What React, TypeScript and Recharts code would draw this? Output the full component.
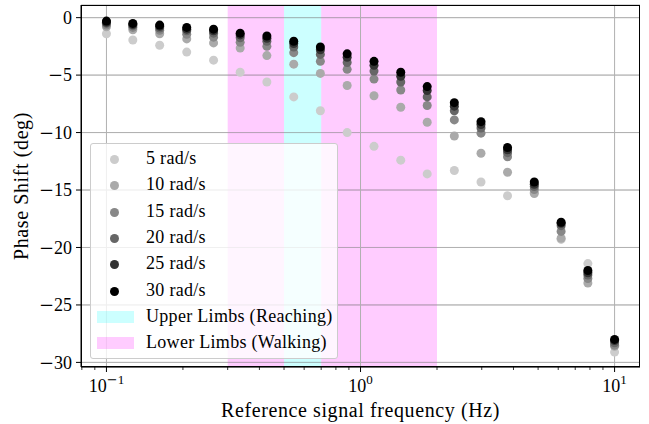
import {
  ScatterChart,
  Scatter,
  XAxis,
  YAxis,
  CartesianGrid,
  ReferenceArea,
  ReferenceLine,
  Label,
} from "recharts";

// reference frequencies (Hz), log spaced
const FREQS = [
  0.1, 0.127, 0.162, 0.207, 0.264, 0.336, 0.428, 0.546, 0.695, 0.886, 1.13,
  1.44, 1.83, 2.34, 2.98, 3.79, 4.83, 6.16, 7.85, 10,
];

const SPEEDS = ["5 rad/s", "10 rad/s", "15 rad/s", "20 rad/s", "25 rad/s", "30 rad/s"];

const PHASE_5 = [
  -1.4, -1.95, -2.4, -3.0, -3.7, -4.75, -5.6, -6.9, -8.1, -10.0, -11.2, -12.4,
  -13.6, -13.3, -14.3, -15.5, -15.2, -19.3, -21.4, -29.1,
];
const PHASE_10 = [
  -0.8, -1.05, -1.4, -1.85, -2.2, -2.65, -3.3, -4.05, -4.85, -5.9, -6.8, -7.8,
  -9.1, -10.3, -11.8, -13.45, -15.3, -19.2, -23.1, -28.6,
];
const PHASE_15 = [
  -0.65, -0.85, -1.1, -1.45, -1.7, -2.15, -2.5, -3.05, -3.8, -4.5, -5.35, -6.3,
  -7.65, -8.9, -10.05, -12.1, -14.95, -18.6, -22.7, -28.5,
];
const PHASE_20 = [
  -0.5, -0.7, -0.9, -1.15, -1.35, -1.75, -2.05, -2.55, -3.2, -3.9, -4.65, -5.6,
  -6.9, -8.1, -9.6, -11.75, -14.7, -18.1, -22.4, -28.3,
];
const PHASE_25 = [
  -0.4, -0.6, -0.75, -1.0, -1.15, -1.5, -1.8, -2.25, -2.8, -3.45, -4.15, -5.1,
  -6.35, -7.7, -9.3, -11.5, -14.5, -17.9, -22.2, -28.1,
];
const PHASE_30 = [
  -0.3, -0.5, -0.65, -0.85, -1.0, -1.35, -1.6, -2.05, -2.55, -3.15, -3.8, -4.75,
  -6.0, -7.4, -9.05, -11.3, -14.3, -17.8, -22.0, -28.0,
];

const SERIES_VALUES = [PHASE_5, PHASE_10, PHASE_15, PHASE_20, PHASE_25, PHASE_30];
const SERIES_COLORS = ["#cccccc", "#aaaaaa", "#888888", "#666666", "#333333", "#000000"];

const X_MAJOR = [0.1, 1, 10];
const X_MINOR = [
  0.08, 0.09, 0.2, 0.3, 0.4, 0.5, 0.6, 0.7, 0.8, 0.9, 2, 3, 4, 5, 6, 7, 8, 9,
];
const Y_TICKS = [0, -5, -10, -15, -20, -25, -30];

const UPPER_BAND = [0.5, 0.7];
const LOWER_BANDS = [
  [0.3, 0.5],
  [0.7, 2],
];

const W = 649;
const H = 424;
const MARGIN = { top: 5, right: 9, bottom: 0, left: 0 };
const Y_AXIS_W = 81;
const X_AXIS_H = 57;
const FONT = "'Liberation Serif', 'Times New Roman', serif";
const MINUS_FONT = "'DejaVu Serif', serif";
const PINK = "#ff00ff";
const CYAN = "#00ffff";

// number label with a wide minus sign, closer to the TeX one
function Signed({ value }: { value: number }) {
  if (value < 0) {
    return (
      <>
        <tspan fontFamily={MINUS_FONT}>{"\u2212"}</tspan>
        <tspan>{String(-value)}</tspan>
      </>
    );
  }
  return <tspan>{String(value)}</tspan>;
}

function XTick(props: any) {
  const { x, y, payload } = props;
  const v = payload.value;
  const major = X_MAJOR.includes(v);
  if (!major) {
    return <line x1={x} x2={x} y1={y} y2={y + 3} stroke="#000" strokeWidth={0.8} />;
  }
  const exp = Math.round(Math.log10(v));
  return (
    <g>
      <line x1={x} x2={x} y1={y} y2={y + 5} stroke="#000" strokeWidth={1} />
      <text x={x} y={y + 25} textAnchor="middle" fontFamily={FONT} fontSize={18} fill="#000">
        10
        <tspan dy={-8} fontSize={13}>
          <Signed value={exp} />
        </tspan>
      </text>
    </g>
  );
}

function YTick(props: any) {
  const { x, y, payload } = props;
  return (
    <text x={x} y={y} dy="0.34em" textAnchor="end" fontFamily={FONT} fontSize={18} fill="#000">
      <Signed value={payload.value} />
    </text>
  );
}

function LegendBox() {
  const rowH = 26.3;
  return (
    <div
      style={{
        position: "absolute",
        left: 90,
        top: 143,
        width: 248,
        height: 216,
        background: "rgba(255,255,255,0.8)",
        border: "1px solid #cccccc",
        borderRadius: 3,
        boxSizing: "border-box",
        fontFamily: FONT,
        fontSize: 18,
        letterSpacing: 0.3,
        color: "#000",
      }}
    >
      {SPEEDS.map((name, i) => (
        <div key={name} style={{ position: "absolute", left: 0, top: 3 + i * rowH, height: rowH, width: "100%" }}>
          <span
            style={{
              position: "absolute",
              left: 19,
              top: 8,
              width: 9,
              height: 9,
              borderRadius: "50%",
              background: SERIES_COLORS[i],
            }}
          />
          <span style={{ position: "absolute", left: 55, top: 1, lineHeight: "20px" }}>{name}</span>
        </div>
      ))}
      {[
        { name: "Upper Limbs (Reaching)", color: "rgba(0,255,255,0.2)" },
        { name: "Lower Limbs (Walking)", color: "rgba(255,0,255,0.2)" },
      ].map((e, j) => (
        <div key={e.name} style={{ position: "absolute", left: 0, top: 3 + (6 + j) * rowH, height: rowH, width: "100%" }}>
          <span
            style={{
              position: "absolute",
              left: 6,
              top: 6,
              width: 37,
              height: 12,
              background: e.color,
            }}
          />
          <span style={{ position: "absolute", left: 55, top: 1, lineHeight: "20px" }}>{e.name}</span>
        </div>
      ))}
    </div>
  );
}

export default function App() {
  const plotLeft = MARGIN.left + Y_AXIS_W;
  const plotTop = MARGIN.top;
  const plotW = W - plotLeft - MARGIN.right;
  const plotH = H - MARGIN.top - MARGIN.bottom - X_AXIS_H;

  return (
    <div style={{ position: "absolute", left: 0, top: 0, width: W, height: H, background: "#fff" }}>
      <ScatterChart width={W} height={H} margin={MARGIN}>
        <CartesianGrid vertical={false} stroke="#b0b0b0" strokeWidth={1} />
        {LOWER_BANDS.map(([a, b]) => (
          <ReferenceArea key={a} x1={a} x2={b} fill={PINK} fillOpacity={0.2} stroke="none" />
        ))}
        <ReferenceArea x1={UPPER_BAND[0]} x2={UPPER_BAND[1]} fill={CYAN} fillOpacity={0.2} stroke="none" />
        {X_MAJOR.map((v) => (
          <ReferenceLine key={v} x={v} stroke="#b0b0b0" strokeWidth={1} />
        ))}
        {Y_TICKS.map((v) => (
          <ReferenceLine key={v} y={v} stroke="#b0b0b0" strokeOpacity={0.6} strokeWidth={1} />
        ))}
        <XAxis
          dataKey="x"
          type="number"
          scale="log"
          domain={[0.0794, 12.59]}
          allowDataOverflow
          ticks={[...X_MAJOR, ...X_MINOR].sort((a, b) => a - b)}
          interval={0}
          tick={<XTick />}
          tickLine={false}
          tickSize={0}
          tickMargin={0}
          height={X_AXIS_H}
          axisLine={{ stroke: "#000", strokeWidth: 1 }}
        >
          <Label
            content={() => (
              <text
                x={plotLeft + plotW / 2}
                y={plotTop + plotH + 50}
                textAnchor="middle"
                fontFamily={FONT}
                fontSize={20}
                letterSpacing={0.6}
                fill="#000"
              >
                Reference signal frequency (Hz)
              </text>
            )}
          />
        </XAxis>
        <YAxis
          dataKey="y"
          type="number"
          domain={[-30.4, 1.1]}
          allowDataOverflow
          ticks={Y_TICKS}
          interval={0}
          width={Y_AXIS_W}
          tickSize={5}
          tickMargin={4}
          tickLine={{ stroke: "#000" }}
          axisLine={{ stroke: "#000", strokeWidth: 1 }}
          tick={<YTick />}
        >
          <Label
            content={() => (
              <text
                x={28}
                y={plotTop + plotH / 2}
                textAnchor="middle"
                fontFamily={FONT}
                fontSize={20}
                letterSpacing={0.6}
                fill="#000"
                transform={`rotate(-90 28 ${plotTop + plotH / 2})`}
              >
                Phase Shift (deg)
              </text>
            )}
          />
        </YAxis>
        {SERIES_VALUES.map((vals, i) => (
          <Scatter
            key={SPEEDS[i]}
            name={SPEEDS[i]}
            data={FREQS.map((f, k) => ({ x: f, y: vals[k] }))}
            isAnimationActive={false}
            shape={(p: any) => <circle cx={p.cx} cy={p.cy} r={4.5} fill={SERIES_COLORS[i]} />}
          />
        ))}
      </ScatterChart>
      {/* frame around the axes */}
      <div
        style={{
          position: "absolute",
          left: plotLeft,
          top: plotTop,
          width: plotW,
          height: plotH,
          border: "1px solid #000",
          boxSizing: "border-box",
          pointerEvents: "none",
        }}
      />
      <LegendBox />
    </div>
  );
}
